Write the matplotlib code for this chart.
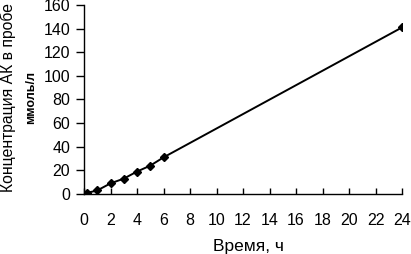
import matplotlib
matplotlib.use("Agg")
import matplotlib.pyplot as plt

plt.rcParams['font.family'] = ['Liberation Sans', 'DejaVu Sans']

# время, ч и концентрация АК, ммоль/л
time_h = [0.25, 1, 2, 3, 4, 5, 6, 24]
conc = [1, 3, 9, 13, 19, 24, 31, 141]

x_ticks = list(range(0, 25, 2))
y_ticks = list(range(0, 161, 20))

fig = plt.figure(figsize=(4.11, 2.54), dpi=100)
ax = fig.add_axes([84 / 411, 1 - 194 / 254, 318 / 411, 189 / 254])

ax.plot(time_h, conc, color='black', lw=1.4, marker='D', ms=4, mec='black', mfc='black')

ax.set_xlim(0, 24)
ax.set_ylim(0, 160)
ax.set_xticks(x_ticks)
ax.set_yticks(y_ticks)
ax.spines['top'].set_visible(False)
ax.spines['right'].set_visible(False)
for s in ['left', 'bottom']:
    ax.spines[s].set_linewidth(1.0)
ax.tick_params(axis='x', direction='in', length=4, width=1, pad=14, labelsize=11.5)
ax.tick_params(axis='y', direction='out', length=6, width=1, pad=4, labelsize=11.5)

fig.text(8 / 411, 1 - 98 / 254, 'Концентрация АК в пробе', rotation=90,
         ha='center', va='center', fontsize=11.3)
fig.text(31 / 411, 1 - 98 / 254, 'ммоль/л', rotation=90,
         ha='center', va='center', fontsize=9, fontweight='bold')
fig.text(248 / 411, 1 - 246 / 254, 'Время, ч', ha='center', va='center', fontsize=12.5)

fig.savefig('out.png', dpi=100)
